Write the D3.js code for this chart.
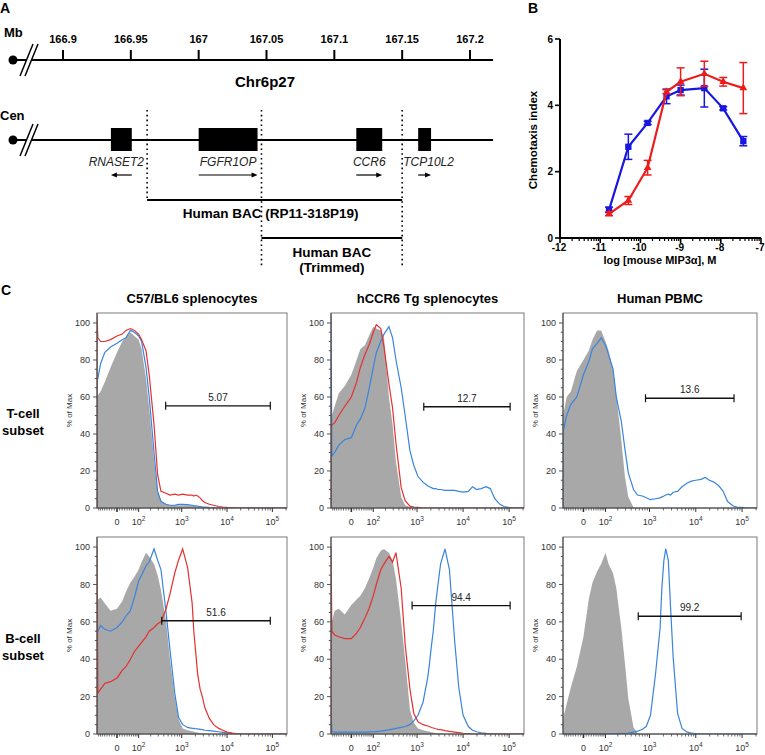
<!DOCTYPE html>
<html>
<head>
<meta charset="utf-8">
<script src="https://cdn.jsdelivr.net/npm/d3@7"></script>
<style>
 html,body{margin:0;padding:0;background:#fff;}
 svg{display:block;}
 text{font-family:Arial,"Liberation Sans",Helvetica,sans-serif;}
</style>
</head>
<body>
<svg id="fig" width="765" height="755"></svg>
<script>
// ================= Panel A data =================
const mbTicks = [166.9, 166.95, 167, 167.05, 167.1, 167.15, 167.2];
const geneNames = ["RNASET2", "FGFR1OP", "CCR6", "TCP10L2"];
const geneStart = [166.9353, 167.0, 167.1162, 167.1618];
const geneEnd = [166.9507, 167.0434, 167.1353, 167.1713];
const geneStrand = [-1, 1, 1, 1];
const bacNames = [["Human BAC (RP11-318P19)"], ["Human BAC", "(Trimmed)"]];
const bacStart = [166.962, 167.0463];
const bacEnd = [167.15, 167.15];

// ================= Panel B data =================
const logConc = [-10.78, -10.3, -9.82, -9.35, -9.0, -8.41, -7.94, -7.44];
const blueIndex = [0.85, 2.75, 3.47, 4.27, 4.46, 4.52, 3.91, 2.92];
const blueErr = [0.08, 0.38, 0.05, 0.22, 0.15, 0.57, 0.05, 0.14];
const redIndex = [0.73, 1.13, 2.12, 4.41, 4.71, 4.95, 4.71, 4.52];
const redErr = [0.06, 0.12, 0.22, 0.06, 0.42, 0.38, 0.13, 0.77];
const bXTicks = [-12, -11, -10, -9, -8, -7];
const bYTicks = [0, 2, 4, 6];

// ================= Panel C data =================
const fluorBins = [-90, -85, -70, -50, -25, 0, 20, 35, 55, 75, 100, 120, 155, 185, 240, 290, 345, 450, 550, 700,
  850, 1050, 1350, 1700, 1850, 2050, 2250, 2550, 2850, 3250, 4050, 5050, 6550, 8050, 10000, 13000, 16000, 19700,
  24600, 31400, 39000, 48700, 63000, 77600, 96500, 125000, 154000, 192000, 210000];
const fluorMajor = [0, 100, 1000, 10000, 100000];
const fluorMinor = [-80, -70, -60, -50, -40, -30, -20, -10, 10, 20, 30, 40, 50, 60, 70, 80, 90,
  200, 300, 400, 500, 600, 700, 800, 900, 2000, 3000, 4000, 5000, 6000, 7000, 8000, 9000,
  20000, 30000, 40000, 50000, 60000, 70000, 80000, 90000, 200000];
const pctTicks = [0, 20, 40, 60, 80, 100];
const histTitles = ["C57/BL6 splenocytes", "hCCR6 Tg splenocytes", "Human PBMC"];
const rowLabels = [["T-cell", "subset"], ["B-cell", "subset"]];

const t1Gray = [60,61,63,68,76,84,90,92,95,93,91,86,70,54,26,9,4,2,1.5,1.5,1.5,1.5,1.5,1.5,1.2,1,1,0.8,0.6,0.5,0.3,0.2,0,0,0,0,0,0,0,0,0,0,0,0,0,0,0,0,0];
const t1Blue = [68,70,78,84,87,89,91,92,96,95,93,90,76,60,30,9,3.5,2,1.5,1.5,2,2,1.8,1.5,1.3,1.2,1,0.8,0.6,0.5,0.3,0.2,0,0,0,0,0,0,0,0,0,0,0,0,0,0,0,0,0];
const t1Red = [104,92,90,90,91,93,94,96,97,96,94,91,85,72,45,18,9,8,7,7.5,7,7.5,7,7,6.5,7,6.5,5.5,4,3,2,1.5,0.8,0.5,0.3,0.2,0,0,0,0,0,0,0,0,0,0,0,0,0];
const t2Gray = [45,50,55,62,66,72,80,86,88,93,98,97,96,92,60,45,25,6,1.5,0.5,0.3,0,0,0,0,0,0,0,0,0,0,0,0,0,0,0,0,0,0,0,0,0,0,0,0,0,0,0,0];
const t2Red = [43,45,46,50,55,60,68,76,83,88,95,99,97,87,67,54,35,11,4,1,0.5,0.3,0,0,0,0,0,0,0,0,0,0,0,0,0,0,0,0,0,0,0,0,0,0,0,0,0,0,0];
const t2Blue = [104,28,30,34,37,38,45,48,54,64,76,84,90,94,98,92,80,65,50,31,23,17,14,12,11.5,11,10.5,10.5,10,10,9.5,9.5,9.5,9,8.6,9,11.5,10,10.5,11.5,10.5,5,2,0.8,0.3,0,0,0,0];
const t3Gray = [50,52,60,63,74,80,85,91,96,96,90,85,74,61,37,17,6,0.3,0,0,0,0,0,0,0,0,0,0,0,0,0,0,0,0,0,0,0,0,0,0,0,0,0,0,0,0,0,0,0];
const t3Blue = [42,43,50,56,60,72,79,86,89,92,88,83,75,60,47,32,19,10,7,6.5,5.5,4.5,5,5.5,6,6.5,7,7.5,7,8.5,9,11.5,13.5,14.5,15,15.5,16.5,15,14,12,9,3.5,1.2,0.5,0.3,0,0,0,0];
const b1Gray = [72,72,73,70,66,67,71,76,81,84,88,92,97,95,91,85,77,60,40,20,8,3,2,1.5,1.2,1,0.8,0.6,0.4,0.3,0,0,0,0,0,0,0,0,0,0,0,0,0,0,0,0,0,0,0];
const b1Blue = [54,55,58,56,55,57,60,63,66,73,82,85,90,92,99,93,88,65,45,22,9,5,3.5,3,3,2.8,2.7,2.5,2.3,2,1.8,1.5,1.2,0.9,0.6,0.3,0,0,0,0,0,0,0,0,0,0,0,0,0];
const b1Red = [100,22,24,27,28,30,34,36,40,44,47,49,52,55,57,59,60,67,75,86,93,99,89,70,55,43,32,24,20,14,8.5,5,3,2,1,0.5,0.2,0,0,0,0,0,0,0,0,0,0,0,0];
const b2Gray = [58,60,66,67,64,69,72,74,78,83,89,94,98,99,97,93,83,60,40,13,6,3,2,1.5,1.3,1,0.8,0.6,0.4,0.3,0,0,0,0,0,0,0,0,0,0,0,0,0,0,0,0,0,0,0];
const b2Red = [100,55,53,52,51,51,54,57,62,67,74,80,88,91,95,92,97,78,48,24,11,6.5,5,4.3,4,3.5,3.2,2.8,2.5,2.3,1.8,1.4,1,0.7,0.4,0.2,0,0,0,0,0,0,0,0,0,0,0,0,0];
const b2Blue = [14,1.5,1,1,1,1,1,1,1,1.1,1.2,1.3,1.5,1.8,2.2,2.6,3,3.5,4,5,7,10,17,30,37,47,55,70,80,91,99,88,50,25,10,4,2,1.2,0.6,0.3,0,0,0,0,0,0,0,0,0];
const b3Gray = [8,10,16,25,36,52,72,81,87,91,97,91,86,78,57,38,19,3.5,0.5,0,0,0,0,0,0,0,0,0,0,0,0,0,0,0,0,0,0,0,0,0,0,0,0,0,0,0,0,0,0];
const b3Blue = [0.2,0.2,0.2,0.2,0.2,0.2,0.2,0.2,0.2,0.2,0.2,0.2,0.2,0.2,0.3,0.4,0.5,1,1.5,2.5,4,10,32,57,78,93,99,93,68,41,11,3,1,0.5,0.2,0,0,0,0,0,0,0,0,0,0,0,0,0,0];

const gateLo = [440, 1400, 820, 360, 780, 570];
const gateHi = [90000, 105000, 67000, 90000, 105000, 95500];
const gatePct = [55.2, 54.7, 59.3, 60.6, 68.7, 63];
const gateLabels = ["5.07", "12.7", "13.6", "51.6", "94.4", "99.2"];

// ================= Drawing =================
const svg = d3.select("#fig");
function txt(g, x, y, s, o = {}) {
  const t = g.append("text").attr("x", x).attr("y", y).text(s)
    .attr("font-size", o.size || 12)
    .attr("font-weight", o.weight || "normal")
    .attr("text-anchor", o.anchor || "start")
    .attr("fill", o.fill || "#000");
  if (o.style) t.attr("font-style", o.style);
  return t;
}

// ----- Panel A -----
const xA = d3.scaleLinear().domain([166.9, 167.2]).range([63, 470]);
const gA = svg.append("g");
txt(gA, 0, 13, "A", {size: 14, weight: "bold"});
txt(gA, 4, 37, "Mb", {size: 13, weight: "bold"});
txt(gA, 0, 120, "Cen", {size: 13, weight: "bold"});
[60, 140].forEach(y => {
  gA.append("line").attr("x1", 13).attr("x2", xA(167.217)).attr("y1", y).attr("y2", y)
    .attr("stroke", "#000").attr("stroke-width", 1.8);
  gA.append("circle").attr("cx", 13).attr("cy", y).attr("r", 4.5).attr("fill", "#000");
  gA.append("polygon").attr("points", `20,${y+16} 25,${y+16} 38,${y-16} 33,${y-16}`).attr("fill", "#fff");
  [0, 5].forEach(dx => gA.append("line").attr("x1", 20 + dx).attr("y1", y + 16).attr("x2", 33 + dx).attr("y2", y - 16)
    .attr("stroke", "#000").attr("stroke-width", 1.5));
});
mbTicks.forEach(v => {
  gA.append("line").attr("x1", xA(v)).attr("x2", xA(v)).attr("y1", 50).attr("y2", 60)
    .attr("stroke", "#000").attr("stroke-width", 2);
  txt(gA, xA(v), 43, String(v), {size: 11, weight: "bold", anchor: "middle"});
});
txt(gA, 265, 87, "Chr6p27", {size: 15, weight: "bold", anchor: "middle"});

const geneLabelShift = [-5, 0, 0, 4];
geneNames.forEach((name, i) => {
  const x0 = xA(geneStart[i]), x1 = xA(geneEnd[i]);
  gA.append("rect").attr("x", x0).attr("y", 128).attr("width", x1 - x0).attr("height", 23).attr("fill", "#000");
  txt(gA, (x0 + x1) / 2 + geneLabelShift[i], 166, name, {size: 12, style: "italic", anchor: "middle", fill: "#222"});
  const s = geneStrand[i];
  const a0 = s > 0 ? x0 : x1, a1 = s > 0 ? x1 : x0, ay = 175;
  gA.append("line").attr("x1", a0).attr("x2", a1 - s * 4).attr("y1", ay).attr("y2", ay)
    .attr("stroke", "#000").attr("stroke-width", 1.2);
  gA.append("path").attr("d", `M${a1},${ay} L${a1 - s * 6},${ay - 2.6} L${a1 - s * 6},${ay + 2.6} Z`).attr("fill", "#000");
});
const dotMb = [bacStart[0], bacStart[1], bacEnd[0]];
const dotBottom = [200, 268, 268];
dotMb.forEach((v, i) => {
  gA.append("line").attr("x1", xA(v)).attr("x2", xA(v)).attr("y1", 110).attr("y2", dotBottom[i])
    .attr("stroke", "#000").attr("stroke-width", 1.6).attr("stroke-dasharray", "1.6,3.2");
});
const bacY = [200, 238];
const bacLabelY = [[218], [257, 271.5]];
bacStart.forEach((s, i) => {
  gA.append("line").attr("x1", xA(s)).attr("x2", xA(bacEnd[i])).attr("y1", bacY[i]).attr("y2", bacY[i])
    .attr("stroke", "#000").attr("stroke-width", 2);
  const mid = (xA(s) + xA(bacEnd[i])) / 2 - (i === 0 ? 4 : 0);
  bacNames[i].forEach((t, j) => txt(gA, mid, bacLabelY[i][j], t, {size: 13.5, weight: "bold", anchor: "middle"}));
});

// ----- Panel B -----
const xB = d3.scaleLinear().domain([-12, -7]).range([560, 761]);
const yB = d3.scaleLinear().domain([0, 6]).range([238, 39]);
const gB = svg.append("g");
txt(gB, 528, 13, "B", {size: 14, weight: "bold"});
gB.append("line").attr("x1", xB(-12)).attr("x2", xB(-7)).attr("y1", yB(0)).attr("y2", yB(0)).attr("stroke", "#000").attr("stroke-width", 2);
gB.append("line").attr("x1", xB(-12)).attr("x2", xB(-12)).attr("y1", yB(0) + 1).attr("y2", yB(6)).attr("stroke", "#000").attr("stroke-width", 2);
bXTicks.forEach(t => {
  gB.append("line").attr("x1", xB(t)).attr("x2", xB(t)).attr("y1", yB(0)).attr("y2", yB(0) + 5).attr("stroke", "#000").attr("stroke-width", 1.6);
  txt(gB, xB(t) - 1, 251, String(t), {size: 10, weight: "bold", anchor: "middle"});
});
for (let d = -12; d < -7; d++) {
  for (let k = 2; k <= 9; k++) {
    const v = d + Math.log10(k);
    gB.append("line").attr("x1", xB(v)).attr("x2", xB(v)).attr("y1", yB(0)).attr("y2", yB(0) + 3).attr("stroke", "#000").attr("stroke-width", 1.2);
  }
}
bYTicks.forEach(t => {
  gB.append("line").attr("x1", xB(-12) - 5).attr("x2", xB(-12)).attr("y1", yB(t)).attr("y2", yB(t)).attr("stroke", "#000").attr("stroke-width", 1.6);
  txt(gB, xB(-12) - 7, yB(t) + 3.5, String(t), {size: 10, weight: "bold", anchor: "end"});
});
txt(gB, 660, 264, "log [mouse MIP3\u03b1], M", {size: 11, weight: "bold", anchor: "middle"});
txt(gB, 0, 0, "Chemotaxis index", {size: 11.5, weight: "bold", anchor: "middle"})
  .attr("transform", "translate(537,140) rotate(-90)");

const bSeries = [
  {y: blueIndex, e: blueErr, col: "#1717e0", sym: d3.symbolSquare, size: 40},
  {y: redIndex, e: redErr, col: "#ec1c1c", sym: d3.symbolTriangle, size: 26}
];
bSeries.forEach(s => {
  const pts = logConc.map((x, i) => [x, s.y[i], s.e[i]]);
  gB.append("path").attr("d", d3.line().x(d => xB(d[0])).y(d => yB(d[1]))(pts))
    .attr("fill", "none").attr("stroke", s.col).attr("stroke-width", 2.2);
  pts.forEach(d => {
    const cx = xB(d[0]);
    const yt = yB(d[1] + d[2]), yb = yB(d[1] - d[2]);
    gB.append("line").attr("x1", cx).attr("x2", cx).attr("y1", yt).attr("y2", yb).attr("stroke", s.col).attr("stroke-width", 1.5);
    [yt, yb].forEach(yy => gB.append("line").attr("x1", cx - 4).attr("x2", cx + 4).attr("y1", yy).attr("y2", yy).attr("stroke", s.col).attr("stroke-width", 1.5));
    gB.append("path").attr("d", d3.symbol().type(s.sym).size(s.size)())
      .attr("transform", `translate(${cx},${yB(d[1])})`).attr("fill", s.col);
  });
});

// ----- Panel C -----
const BLUE = "#3a84dc", RED = "#e4302e", GRAY = "#a8a8a8";
const ASINH_C = 75;
const tr = v => Math.asinh(v / ASINH_C);
const cols = [{L: 97, W: 190}, {L: 331, W: 193}, {L: 563, W: 194}];
const rowsC = [{T: 313, B: 508}, {T: 537, B: 734}];
const panelsC = [
  {r: 0, c: 0, gray: t1Gray, lines: [[t1Blue, BLUE], [t1Red, RED]]},
  {r: 0, c: 1, gray: t2Gray, lines: [[t2Blue, BLUE], [t2Red, RED]]},
  {r: 0, c: 2, gray: t3Gray, lines: [[t3Blue, BLUE]]},
  {r: 1, c: 0, gray: b1Gray, lines: [[b1Blue, BLUE], [b1Red, RED]]},
  {r: 1, c: 1, gray: b2Gray, lines: [[b2Blue, BLUE], [b2Red, RED]]},
  {r: 1, c: 2, gray: b3Gray, lines: [[b3Blue, BLUE]]}
];
const gC = svg.append("g");
txt(gC, 1, 295, "C", {size: 14, weight: "bold"});
histTitles.forEach((t, c) => txt(gC, cols[c].L + cols[c].W / 2, rowsC[0].T - 10, t, {size: 13, weight: "bold", anchor: "middle"}));
rowLabels.forEach((lab, r) => {
  const mid = (rowsC[r].T + rowsC[r].B) / 2;
  txt(gC, 23, mid + 7.5, lab[0], {size: 13, weight: "bold", anchor: "middle"});
  txt(gC, 23, mid + 24, lab[1], {size: 13, weight: "bold", anchor: "middle"});
});

panelsC.forEach((p, i) => {
  const {L, W} = cols[p.c];
  const {T, B} = rowsC[p.r];
  const lin = d3.scaleLinear().domain([tr(fluorBins[0]), tr(fluorBins[fluorBins.length - 1])]).range([L, L + W]);
  const x = v => lin(tr(v));
  const y = d3.scaleLinear().domain([0, 105.4]).range([B, T]);
  const g = gC.append("g");
  const clipId = "clipC" + i;
  g.append("clipPath").attr("id", clipId).append("rect").attr("x", L).attr("y", T).attr("width", W).attr("height", B - T);
  const pg = g.append("g").attr("clip-path", `url(#${clipId})`);
  const grayPts = fluorBins.map((f, k) => [f, p.gray[k]]);
  pg.append("path").attr("d", d3.area().x(d => x(d[0])).y0(y(0)).y1(d => y(d[1]))(grayPts)).attr("fill", GRAY);
  p.lines.forEach(([vals, col]) => {
    const pts = [[fluorBins[0], 0]].concat(fluorBins.map((f, k) => [f, vals[k]]));
    pg.append("path").attr("d", d3.line().x(d => x(d[0])).y(d => y(d[1]))(pts))
      .attr("fill", "none").attr("stroke", col).attr("stroke-width", 1.2);
  });
  g.append("rect").attr("x", L).attr("y", T).attr("width", W).attr("height", B - T)
    .attr("fill", "none").attr("stroke", "#7a7a7a").attr("stroke-width", 1);
  g.append("line").attr("x1", L).attr("x2", L).attr("y1", T).attr("y2", B).attr("stroke", "#444").attr("stroke-width", 1);
  g.append("line").attr("x1", L).attr("x2", L + W).attr("y1", B).attr("y2", B).attr("stroke", "#444").attr("stroke-width", 1);
  d3.range(0, 101, 5).forEach(v => {
    const major = pctTicks.includes(v);
    g.append("line").attr("x1", L - (major ? 4 : 2.2)).attr("x2", L).attr("y1", y(v)).attr("y2", y(v))
      .attr("stroke", "#444").attr("stroke-width", 0.9);
  });
  pctTicks.forEach(v => txt(g, L - 7, y(v) + 3.2, String(v), {size: 9, anchor: "end", fill: "#333"}));
  txt(g, 0, 0, "% of Max", {size: 8, anchor: "middle", fill: "#333"})
    .attr("transform", `translate(${L - 25},${(T + B) / 2}) rotate(-90)`);
  fluorMinor.forEach(v => g.append("line").attr("x1", x(v)).attr("x2", x(v)).attr("y1", B).attr("y2", B + 2.5)
    .attr("stroke", "#444").attr("stroke-width", 0.8));
  fluorMajor.forEach(v => {
    g.append("line").attr("x1", x(v)).attr("x2", x(v)).attr("y1", B).attr("y2", B + 4)
      .attr("stroke", "#333").attr("stroke-width", v === 0 ? 1.6 : 1);
    const t = g.append("text").attr("x", x(v)).attr("y", B + 16.5).attr("text-anchor", "middle")
      .attr("font-size", 9).attr("fill", "#333");
    if (v === 0) t.text("0");
    else {
      t.append("tspan").text("10");
      t.append("tspan").attr("dy", -4).attr("font-size", 6.5).text(String(Math.round(Math.log10(v))));
    }
  });
  const gy = y(gatePct[i]), gx0 = x(gateLo[i]), gx1 = x(gateHi[i]);
  g.append("line").attr("x1", gx0).attr("x2", gx1).attr("y1", gy).attr("y2", gy).attr("stroke", "#111").attr("stroke-width", 1.4);
  [gx0, gx1].forEach(gx => g.append("line").attr("x1", gx).attr("x2", gx).attr("y1", gy - 4).attr("y2", gy + 4)
    .attr("stroke", "#111").attr("stroke-width", 1.2));
  txt(g, (gx0 + gx1) / 2, gy - 5, gateLabels[i], {size: 10, anchor: "middle", fill: "#222"});
});
</script>
</body>
</html>
